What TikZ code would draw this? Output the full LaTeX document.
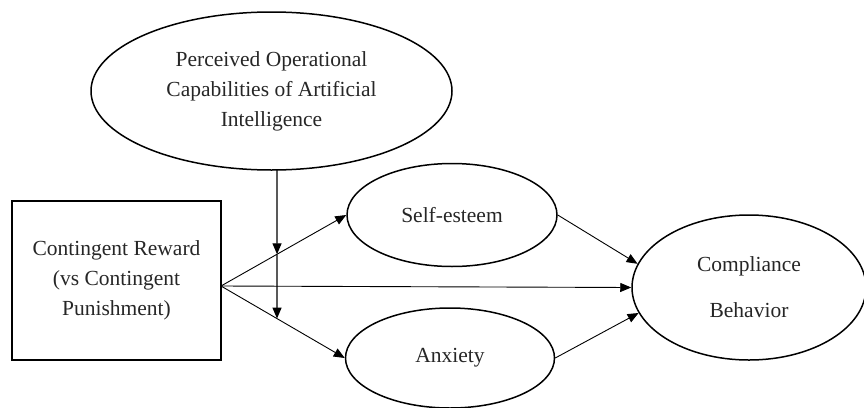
\documentclass[tikz,border=0pt]{standalone}
\usepackage{fontspec}
\setmainfont{Liberation Serif}
\usetikzlibrary{shapes.geometric,arrows.meta}
\begin{document}
\begin{tikzpicture}[x=1pt,y=-1pt,
    txt/.style={font=\fontsize{21.5}{30}\selectfont, align=center, text=black!85},
    oval/.style={txt, draw, ellipse, line width=1.5pt, inner sep=0pt},
    arr/.style={-{Triangle[length=11pt,width=9pt]}, line width=0.9pt}]
      \useasboundingbox (0,0) rectangle (864,407);
      \node[oval, minimum width=361pt, minimum height=158pt] (ai) at (271.5,91) {Perceived Operational\\Capabilities of Artificial\\Intelligence};
      \node[txt, draw, line width=1.5pt, minimum width=209pt, minimum height=159pt] (cr) at (116.5,280.5) {Contingent Reward\\(vs Contingent\\Punishment)};
      \node[oval, minimum width=210pt, minimum height=103pt] (se) at (452,215) {Self-esteem};
      \node[oval, minimum width=209pt, minimum height=100pt] (anx) at (450,358) {Anxiety};
      \node[oval, font=\fontsize{21.5}{46}\selectfont, minimum width=234pt, minimum height=145pt] (cb) at (749,287.5) {Compliance\\Behavior};
      \coordinate (src) at (221,286);
      \draw[arr] (src) -- (se.west);
      \draw[arr] (src) -- (anx.west);
      \draw[arr] (src) -- (cb.west);
      \draw[arr] (se.east) -- (cb.168);
      \draw[arr] (anx.east) -- (cb.193);
      % moderation line
      \coordinate (mtop) at (277,169.5);
      \coordinate (m1) at (intersection of mtop--{277,400} and src--se.west);
      \coordinate (m2) at (intersection of mtop--{277,400} and src--anx.west);
      \draw[arr, line width=1.3pt] (mtop) -- (m1);
      \draw[arr, line width=1.3pt] (m1) -- (m2);
\end{tikzpicture}
\end{document}
